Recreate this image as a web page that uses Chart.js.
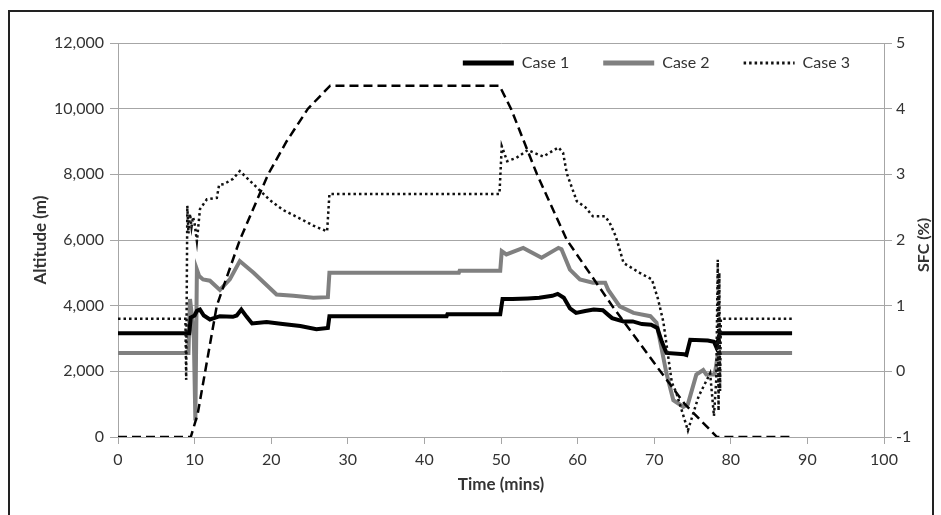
<!DOCTYPE html>
<html>
<head>
<meta charset="utf-8">
<script src="https://cdn.jsdelivr.net/npm/chart.js@4/dist/chart.umd.min.js"></script>
<style>
  html, body { margin: 0; padding: 0; background: #fff; }
  #wrap { position: relative; width: 941px; height: 515px; overflow: hidden; }
  #frame { position: absolute; left: 8px; top: 10px; width: 922px; height: 540px;
           border: 2px solid #222; pointer-events: none; }
</style>
</head>
<body>
<div id="wrap">
  <canvas id="grafico" width="941" height="515"></canvas>
  <div id="frame"></div>
</div>
<script>
// Altitude profile (left axis)
var altTime = [0, 9.5, 10.4, 12.9, 15.9, 19.6, 22, 24.8, 27.7, 49.8, 51.3, 54.7, 58.6, 64.5, 70.8, 74.0, 78.2, 88];
var altitude = [0, 0, 700, 4000, 6000, 8000, 9000, 10000, 10700, 10700, 10000, 8000, 6000, 4000, 2000, 1000, 0, 0];

// Case 1 SFC (right axis)
var case1Time = [0, 9.3, 9.5, 10.0, 10.3, 10.7, 11.2, 12.0, 13.3, 15.0, 15.5, 16.1, 16.8, 17.5, 19.4, 21.5, 23.8, 25.9, 27.4, 27.6,
                 42.9, 43.0, 49.9, 50.2, 51.5, 53.5, 55.0, 56.7, 57.4, 58.2, 59.0, 59.8, 61.0, 62.1, 63.3, 64.0, 64.5, 66.0,
                 67.2, 68.4, 69.6, 70.4, 71.0, 71.6, 73.9, 74.2, 74.7, 77.0, 77.8, 78.1, 78.6, 88];
var case1Sfc = [0.58, 0.58, 0.82, 0.85, 0.92, 0.94, 0.85, 0.79, 0.84, 0.83, 0.85, 0.94, 0.83, 0.73, 0.75, 0.72, 0.69, 0.64, 0.66, 0.84,
                0.84, 0.87, 0.87, 1.10, 1.10, 1.11, 1.12, 1.15, 1.18, 1.12, 0.96, 0.89, 0.92, 0.94, 0.93, 0.86, 0.81, 0.76,
                0.76, 0.72, 0.71, 0.66, 0.45, 0.28, 0.26, 0.25, 0.48, 0.47, 0.45, 0.37, 0.58, 0.58];

// Case 2 SFC (right axis)
var case2Time = [0, 9.2, 9.4, 9.6, 9.9, 10.1, 10.3, 10.6, 11.1, 12.0, 13.3, 14.6, 15.9, 16.5, 17.7, 20.7, 22.9, 25.5, 27.4, 27.6,
                 44.5, 44.6, 49.9, 50.1, 50.7, 52.9, 55.3, 57.5, 57.9, 59.0, 60.3, 62.0, 63.6, 64.0, 65.5, 67.3, 69.5, 70.3,
                 71.6, 72.5, 73.8, 74.4, 75.5, 76.4, 76.8, 77.9, 78.3, 78.6, 88];
var case2Sfc = [0.28, 0.28, 1.1, 0.9, 0.5, -0.75, 1.55, 1.45, 1.40, 1.38, 1.24, 1.40, 1.68, 1.62, 1.50, 1.17, 1.15, 1.12, 1.13, 1.50,
                1.50, 1.53, 1.53, 1.83, 1.78, 1.88, 1.73, 1.88, 1.86, 1.55, 1.40, 1.35, 1.35, 1.24, 0.99, 0.89, 0.84, 0.74,
                -0.03, -0.44, -0.54, -0.50, -0.05, 0.02, -0.05, -0.05, 0.25, 0.28, 0.28];

// Case 3 SFC (right axis)
var case3Time = [0, 8.8, 8.9, 9.05, 9.2, 9.4, 9.6, 9.8, 10.0, 10.3, 10.7, 11.6, 12.9, 13.2, 13.8, 15.0, 15.9, 17.5, 19.8, 21.5,
                 23.7, 25.5, 27.3, 27.6, 49.8, 50.1, 50.8, 52.0, 53.5, 55.5, 57.5, 58.1, 58.6, 59.9, 61.0, 62.0, 63.6, 64.2,
                 65.0, 66.0, 67.0, 68.1, 69.7, 70.5, 71.2, 72.3, 72.9, 74.4, 75.8, 77.3, 77.8, 78.1, 78.3, 78.4, 78.5, 78.6,
                 78.7, 88];
var case3Sfc = [0.8, 0.8, -0.13, 2.52, 2.1, 2.4, 2.2, 2.35, 2.25, 1.98, 2.47, 2.62, 2.64, 2.84, 2.85, 2.93, 3.05, 2.87, 2.61, 2.46,
                2.33, 2.22, 2.13, 2.70, 2.70, 3.43, 3.20, 3.25, 3.37, 3.27, 3.41, 3.33, 3.01, 2.59, 2.50, 2.36, 2.36, 2.26,
                2.05, 1.65, 1.58, 1.50, 1.40, 1.10, 0.75, -0.17, -0.33, -0.90, -0.38, -0.03, -0.68, -0.13, 1.70, -0.60, 1.50, -0.3,
                0.8, 0.8];

function puntos(xs, ys) {
    var out = [];
    for (var i = 0; i < xs.length; i++) out.push({x: xs[i], y: ys[i]});
    return out;
}

var fuente = "Lato, 'Noto Sans', sans-serif";
var gris = "#a6a6a6";
var texto = "#333";

// right axis title reads bottom-to-top like the left one
var tituloDerecho = {
    id: "tituloDerecho",
    afterDraw: function (chart) {
        var s = chart.scales.y1;
        var ctx = chart.ctx;
        ctx.save();
        ctx.translate(s.right - 17, (s.top + s.bottom) / 2 + 5);
        ctx.rotate(-Math.PI / 2);
        ctx.fillStyle = texto;
        ctx.font = "bold 16px " + fuente;
        ctx.textAlign = "center";
        ctx.textBaseline = "middle";
        ctx.fillText("SFC (%)", 0, 0);
        ctx.restore();
    }
};

// put the legend inside the plot, top right
var leyendaDentro = {
    id: "leyendaDentro",
    afterLayout: function (chart) {
        var lg = chart.legend, a = chart.chartArea;
        lg.left = a.left;
        lg.right = a.right;
        lg.width = lg.right - lg.left;
        lg.top = a.top - 22;
        lg.height = 80;
        lg.bottom = lg.top + 80;
    }
};

var ctx = document.getElementById("grafico").getContext("2d");
new Chart(ctx, {
    type: "line",
    data: {
        datasets: [
        {
            label: "Case 1",
            data: puntos(case1Time, case1Sfc),
            yAxisID: "y1",
            borderColor: "#000",
            backgroundColor: "#000",
            borderWidth: 4,
            order: 2
        },
        {
            label: "Case 2",
            data: puntos(case2Time, case2Sfc),
            yAxisID: "y1",
            borderColor: "#808080",
            backgroundColor: "#808080",
            borderWidth: 4,
            order: 3
        },
        {
            label: "Case 3",
            data: puntos(case3Time, case3Sfc),
            yAxisID: "y1",
            borderColor: "#111",
            backgroundColor: "#111",
            borderWidth: 2.5,
            borderDash: [2.5, 3],
            order: 0
        },
        {
            label: "Altitude",
            data: puntos(altTime, altitude),
            yAxisID: "y",
            borderColor: "#000",
            backgroundColor: "#000",
            borderWidth: 2.5,
            borderDash: [9, 5],
            order: 1
        }
        ]
    },
    options: {
        responsive: false,
        animation: false,
        layout: { padding: { top: 42, left: 0, right: 0, bottom: 0 } },
        elements: { point: { radius: 0 }, line: { tension: 0 } },
        plugins: {
            tooltip: { enabled: false },
            legend: {
                position: "top",
                align: "end",
                maxHeight: 1,
                labels: {
                    usePointStyle: true,
                    pointStyle: "line",
                    pointStyleWidth: 51,
                    padding: 34,
                    color: texto,
                    font: { family: fuente, size: 16 },
                    filter: function (item) { return item.text !== "Altitude"; },
                    sort: function (a, b) { return a.datasetIndex - b.datasetIndex; },
                    generateLabels: function (chart) {
                        var items = Chart.defaults.plugins.legend.labels.generateLabels(chart);
                        items.forEach(function (it) {
                            var ds = chart.data.datasets[it.datasetIndex];
                            it.strokeStyle = ds.borderColor;
                            it.lineDash = ds.borderDash || [];
                            it.lineWidth = ds.borderDash ? 3 : 5;
                        });
                        return items;
                    }
                }
            }
        },
        scales: {
            x: {
                type: "linear",
                min: 0,
                max: 100,
                afterFit: function (s) { s.height = 78; },
                ticks: { stepSize: 10, padding: 6, color: texto, font: { family: fuente, size: 16 } },
                grid: { drawOnChartArea: false, color: gris, tickLength: 7 },
                border: { color: gris },
                title: { display: true, text: "Time (mins)", color: texto,
                         font: { family: fuente, size: 17, weight: "bold" }, padding: { top: 0, bottom: 20 } }
            },
            y: {
                position: "left",
                min: 0,
                max: 12000,
                afterFit: function (s) { s.width = 118; },
                ticks: {
                    stepSize: 2000, padding: 6, color: texto, font: { family: fuente, size: 16 },
                    callback: function (v) { return v.toLocaleString("en-US"); }
                },
                grid: { color: gris, tickLength: 8 },
                border: { color: gris },
                title: { display: true, text: "Altitude (m)", color: texto,
                         font: { family: fuente, size: 17, weight: "bold" }, padding: { top: 30, bottom: 0 } }
            },
            y1: {
                position: "right",
                min: -1,
                max: 5,
                afterFit: function (s) { s.width = 57; },
                ticks: { stepSize: 1, padding: 4, color: texto, font: { family: fuente, size: 16 } },
                grid: { drawOnChartArea: false, color: gris, tickLength: 8 },
                border: { color: gris }
            }
        }
    },
    plugins: [tituloDerecho, leyendaDentro]
});
</script>
</body>
</html>
